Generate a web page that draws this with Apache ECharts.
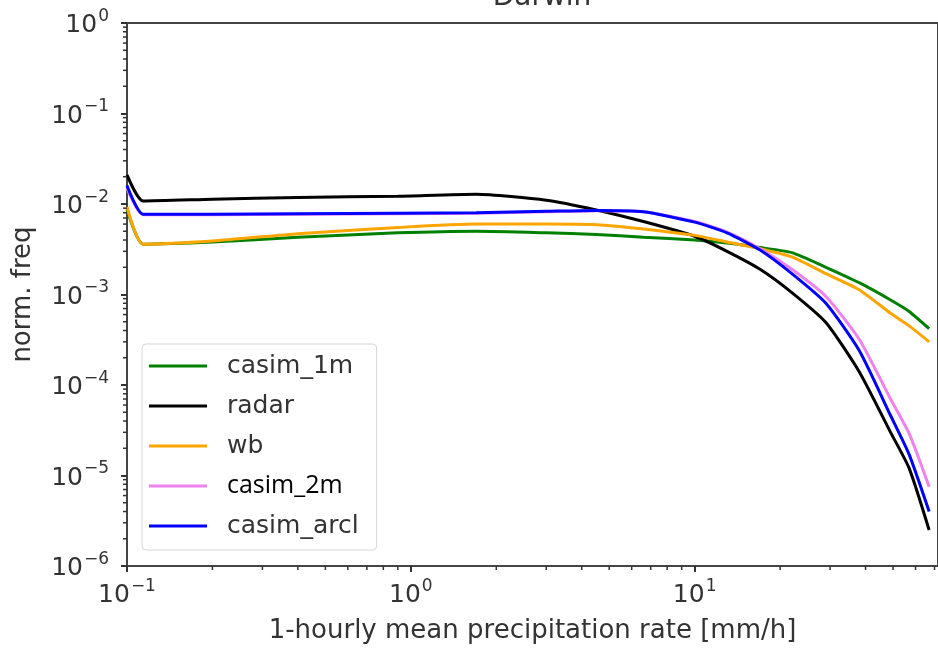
<!DOCTYPE html>
<html>
<head>
<meta charset="utf-8">
<script src="https://cdn.jsdelivr.net/npm/echarts@6/dist/echarts.min.js"></script>
<style>
  html, body { margin: 0; padding: 0; background: #fff; }
  #chart { width: 938px; height: 649px; }
</style>
</head>
<body>
<div id="chart"></div>
<script>
// 降水率 (mm/h)，对数刻度
const rate = [0.1, 0.114, 0.2, 0.4, 0.9, 1.7, 3.0, 4.5, 6.6, 10, 13, 17, 22, 29, 38, 49, 57, 67]

// 各数据源的归一化频率
const casim1m = [0.0088, 0.0036, 0.0038, 0.0043, 0.0048, 0.0050, 0.0048, 0.0046, 0.0043, 0.0040, 0.0037, 0.0033, 0.0029, 0.0020, 0.00135, 0.00087, 0.00065, 0.00042]
const radar = [0.021, 0.0108, 0.0113, 0.0118, 0.0122, 0.0128, 0.0110, 0.0086, 0.0064, 0.0044, 0.0030, 0.0019, 0.00105, 0.00049, 0.00014, 0.00003, 0.000012, 0.0000025]
const wb = [0.0093, 0.0036, 0.0039, 0.0047, 0.0055, 0.0060, 0.0060, 0.0059, 0.0053, 0.0045, 0.0038, 0.0032, 0.0026, 0.0017, 0.00113, 0.00062, 0.00045, 0.00030]
const casim2m = [0.015, 0.0076, 0.0076, 0.0077, 0.0078, 0.0079, 0.0082, 0.0084, 0.0082, 0.0064, 0.0049, 0.0032, 0.0019, 0.00095, 0.00032, 0.00007, 0.000029, 0.0000075]
const casimArcl = [0.016, 0.0077, 0.0077, 0.0078, 0.0079, 0.0080, 0.0083, 0.0085, 0.0082, 0.0063, 0.0048, 0.0031, 0.0017, 0.0008, 0.00024, 0.000046, 0.000017, 0.000004]

// 对数坐标的次刻度位置
const xMinor = [0.2, 0.3, 0.4, 0.5, 0.6, 0.7, 0.8, 0.9, 2, 3, 4, 5, 6, 7, 8, 9, 20, 30, 40, 50, 60, 70]
const yMinor = []
;[1e-6, 1e-5, 1e-4, 1e-3, 1e-2, 1e-1].forEach(d => {
  for (let k = 2; k <= 9; k++) yMinor.push(+(d * k).toPrecision(3))
})

const X_MIN = 0.1
const X_MAX = 72
const Y_MIN = 1e-6
const Y_MAX = 1

const font = 'DejaVu Sans'
const textColor = '#333'
const axisColor = '#444'
const tickColor = '#333'

const seriesDefs = [
  { name: 'casim_1m', data: casim1m, color: '#008000' },
  { name: 'radar', data: radar, color: '#000000' },
  { name: 'wb', data: wb, color: '#FFA500' },
  { name: 'casim_2m', data: casim2m, color: '#EE82EE' },
  { name: 'casim_arcl', data: casimArcl, color: '#0000FF' }
]

// 指数标签 10^n
function powLabel(value) {
  const e = Math.round(Math.log10(value))
  const s = e < 0 ? '\u2212' + Math.abs(e) : String(e)
  return '{b|10}{s|' + s + '}'
}
const labelRich = {
  b: { fontSize: 25, fontFamily: font, color: textColor, lineHeight: 30, verticalAlign: 'bottom', padding: [6, 0, 0, 0] },
  s: { fontSize: 17, fontFamily: font, color: textColor, lineHeight: 30, verticalAlign: 'top', padding: [0, 0, 6, 1] }
}

let myChart = echarts.init(document.getElementById('chart'))

let series = seriesDefs.map(item => ({
  name: item.name,
  type: 'line',
  data: rate.map((x, i) => [x, item.data[i]]),
  symbol: 'none',
  smooth: 0.2,
  lineStyle: { width: 3, color: item.color },
  itemStyle: { color: item.color },
  z: 3
}))

myChart.setOption({
  animation: false,
  textStyle: { fontFamily: font },
  title: {
    text: 'Darwin',
    left: 537,
    textAlign: 'center',
    top: -21,
    textStyle: { fontFamily: font, fontSize: 28, fontWeight: 'normal', color: textColor }
  },
  grid: {
    left: 127,
    top: 23,
    right: -9,
    bottom: 83,
    show: true,
    borderColor: axisColor,
    borderWidth: 2
  },
  legend: {
    data: seriesDefs.map(s => ({ name: s.name, icon: 'rect' })),
    orient: 'vertical',
    left: 142,
    top: 344,
    padding: [8, 18, 10, 7],
    itemGap: 12,
    itemWidth: 58,
    itemHeight: 3,
    backgroundColor: 'rgba(255,255,255,0.85)',
    borderColor: '#d6d6d6',
    borderWidth: 1,
    borderRadius: 4,
    textStyle: {
      fontFamily: font,
      fontSize: 25,
      lineHeight: 28,
      color: textColor,
      padding: [0, 0, 0, 15],
      rich: {
        alt: { fontFamily: 'Open Sans', fontSize: 25, lineHeight: 28, color: '#000' }
      }
    },
    formatter(name) {
      return name === 'casim_2m' ? '{alt|' + name + '}' : name
    }
  },
  xAxis: {
    type: 'log',
    logBase: 10,
    min: X_MIN,
    max: X_MAX,
    name: '1-hourly mean precipitation rate [mm/h]',
    nameLocation: 'middle',
    nameGap: 52,
    nameTextStyle: { fontFamily: font, fontSize: 26, color: textColor },
    axisLine: { lineStyle: { color: axisColor, width: 2 } },
    axisTick: { show: true, length: 6, lineStyle: { color: tickColor, width: 2 } },
    axisLabel: {
      margin: 12,
      showMaxLabel: false,
      formatter: powLabel,
      rich: labelRich
    },
    splitLine: { show: false }
  },
  yAxis: {
    type: 'log',
    logBase: 10,
    min: Y_MIN,
    max: Y_MAX,
    name: 'norm. freq',
    nameLocation: 'middle',
    nameGap: 91,
    nameRotate: 90,
    nameTextStyle: { fontFamily: font, fontSize: 26, color: textColor },
    axisLine: { lineStyle: { color: axisColor, width: 2 } },
    axisTick: { show: true, length: 6, lineStyle: { color: tickColor, width: 2 } },
    axisLabel: {
      margin: 18,
      formatter: powLabel,
      rich: labelRich
    },
    splitLine: { show: false }
  },
  series
})

// 次刻度：用坐标轴换算出像素位置后画短线
function drawMinorTicks() {
  const x0 = myChart.convertToPixel({ xAxisIndex: 0 }, X_MIN)
  const y0 = myChart.convertToPixel({ yAxisIndex: 0 }, Y_MIN)
  const elements = []
  xMinor.forEach(v => {
    const px = myChart.convertToPixel({ xAxisIndex: 0 }, v)
    if (px > 938) return
    elements.push({
      type: 'line',
      silent: true,
      z: 10,
      shape: { x1: px, y1: y0, x2: px, y2: y0 + 4 },
      style: { stroke: tickColor, lineWidth: 1.5 }
    })
  })
  yMinor.forEach(v => {
    const py = myChart.convertToPixel({ yAxisIndex: 0 }, v)
    elements.push({
      type: 'line',
      silent: true,
      z: 10,
      shape: { x1: x0, y1: py, x2: x0 - 4, y2: py },
      style: { stroke: tickColor, lineWidth: 1.5 }
    })
  })
  myChart.setOption({ graphic: { elements } })
}
drawMinorTicks()
</script>
</body>
</html>
